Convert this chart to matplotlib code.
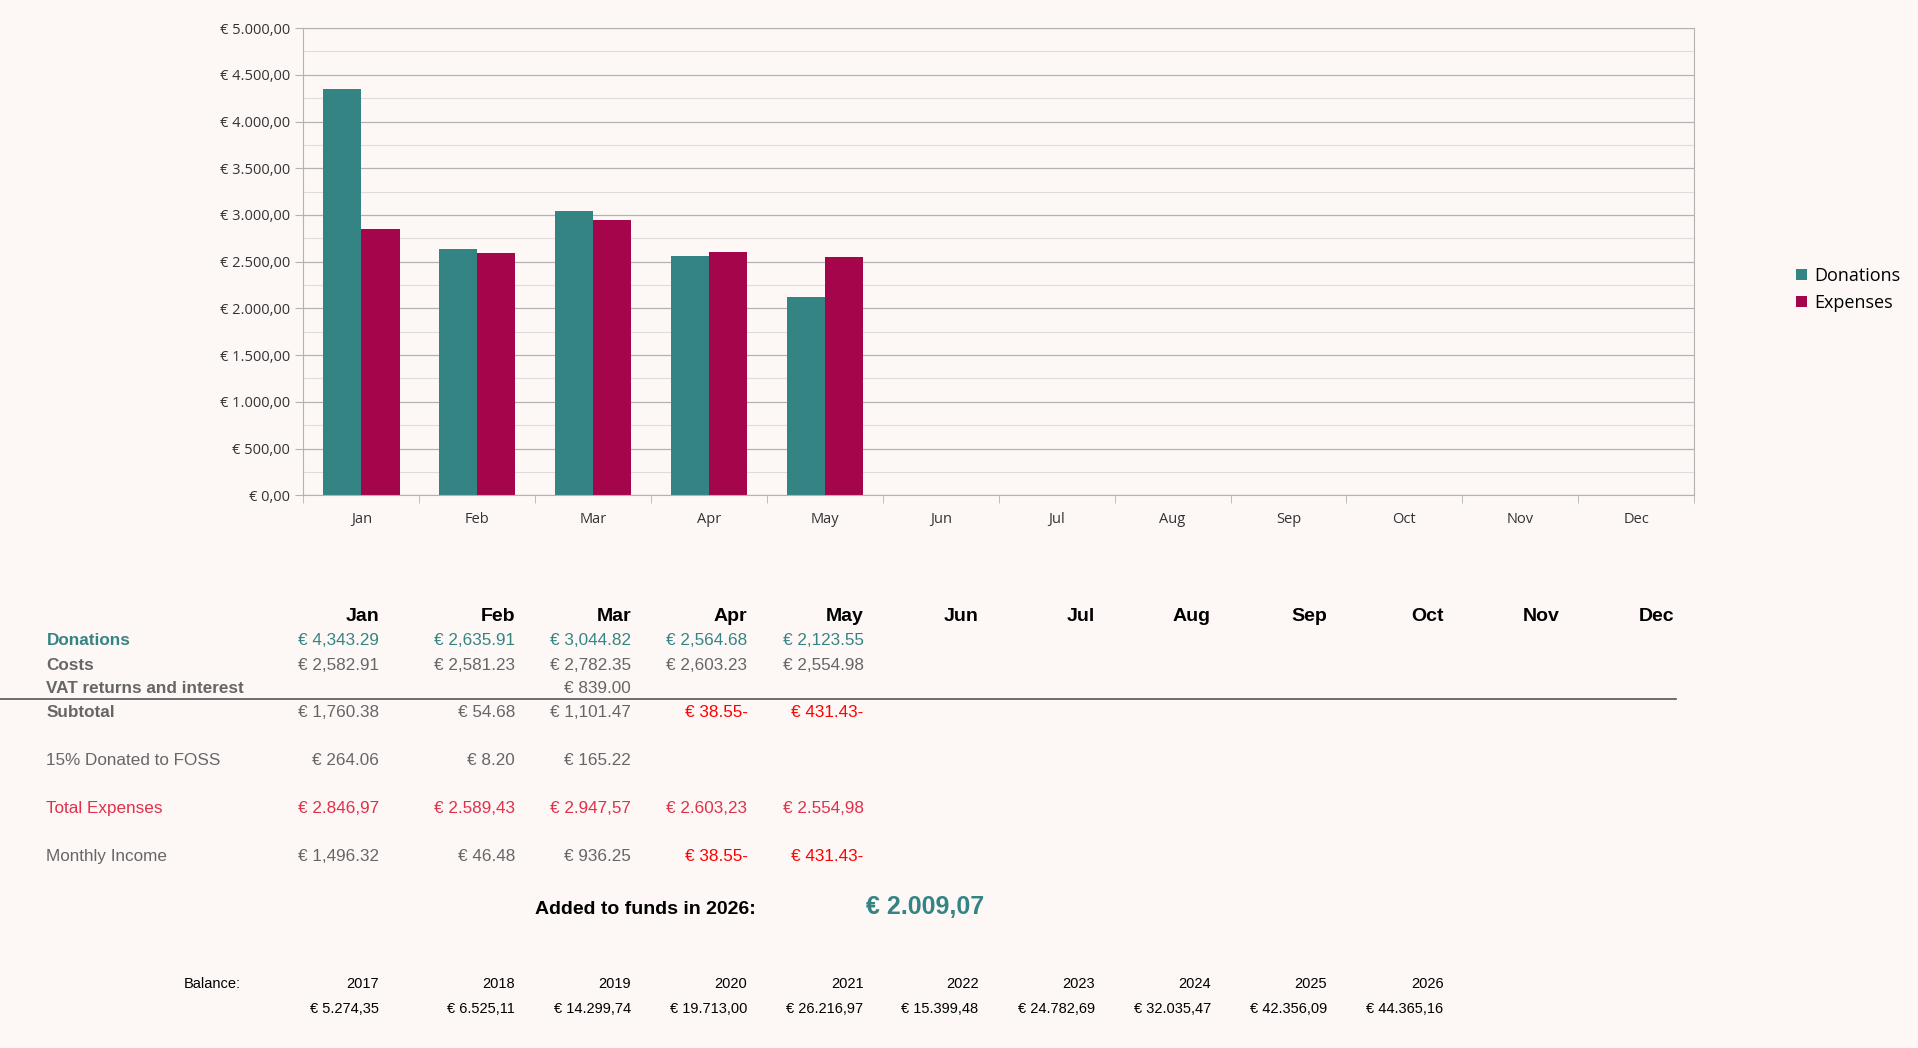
import matplotlib
matplotlib.use('Agg')
import matplotlib.pyplot as plt
import numpy as np

months = ['Jan', 'Feb', 'Mar', 'Apr', 'May', 'Jun', 'Jul', 'Aug', 'Sep', 'Oct', 'Nov', 'Dec']
donations = [4343.29, 2635.91, 3044.82, 2564.68, 2123.55]
expenses = [2846.97, 2589.43, 2947.57, 2603.23, 2554.98]

don_txt = ['€ 4,343.29', '€ 2,635.91', '€ 3,044.82', '€ 2,564.68', '€ 2,123.55']
cost_txt = ['€ 2,582.91', '€ 2,581.23', '€ 2,782.35', '€ 2,603.23', '€ 2,554.98']
vat_txt = ['', '', '€ 839.00', '', '']
sub_txt = ['€ 1,760.38', '€ 54.68', '€ 1,101.47', '€ 38.55-', '€ 431.43-']
foss_txt = ['€ 264.06', '€ 8.20', '€ 165.22', '', '']
tot_txt = ['€ 2.846,97', '€ 2.589,43', '€ 2.947,57', '€ 2.603,23', '€ 2.554,98']
inc_txt = ['€ 1,496.32', '€ 46.48', '€ 936.25', '€ 38.55-', '€ 431.43-']
neg = [False, False, False, True, True]

bal_years = ['2017', '2018', '2019', '2020', '2021', '2022', '2023', '2024', '2025', '2026']
bal_vals = ['€ 5.274,35', '€ 6.525,11', '€ 14.299,74', '€ 19.713,00', '€ 26.216,97',
            '€ 15.399,48', '€ 24.782,69', '€ 32.035,47', '€ 42.356,09', '€ 44.365,16']
added = '€ 2.009,07'

TEAL = '#358484'
CRIM = '#a5054b'
BG = '#fdf8f6'
GREY = '#666666'
W, H = 1568, 857

fig = plt.figure(figsize=(19.18, 10.48), dpi=100, facecolor=BG)
ax = fig.add_axes([248 / W, 1 - 405 / H, (1385 - 248) / W, (405 - 23) / H])
ax.set_facecolor(BG)
x = np.arange(len(donations))
bw = 0.33
ax.bar(x - bw / 2, donations, bw, color=TEAL, label='Donations')
ax.bar(x + bw / 2, expenses, bw, color=CRIM, label='Expenses')
ax.set_xlim(-0.5, 11.5)
ax.set_ylim(0, 5000)
ax.set_yticks(np.arange(0, 5001, 500))
ax.set_yticks(np.arange(250, 5000, 500), minor=True)
ax.set_yticklabels(['€ ' + f'{v:,.2f}'.replace(',', 'X').replace('.', ',').replace('X', '.')
                    for v in np.arange(0, 5001, 500)], fontfamily='Open Sans', fontsize=10.5, color='#333333')
ax.set_xticks(np.arange(12))
ax.set_xticks(np.arange(-0.5, 12, 1), minor=True)
ax.set_xticklabels(months, fontfamily='Open Sans', fontsize=10.5, color='#333333')
ax.tick_params(axis='x', which='major', length=0, pad=12)
ax.tick_params(axis='x', which='minor', length=6, color='#b3b3b3')
ax.tick_params(axis='y', which='major', length=6, color='#b3b3b3')
ax.tick_params(axis='y', which='minor', length=0)
ax.grid(axis='y', which='major', color='#b3b3b3', lw=0.9)
ax.grid(axis='y', which='minor', color='#dddddd', lw=0.8)
ax.set_axisbelow(True)
for s in ax.spines.values():
    s.set_color('#b3b3b3')
ax.legend(loc='upper left', bbox_to_anchor=(1455 / W, 1 - 205 / H), bbox_transform=fig.transFigure,
          frameon=False, prop={'family': 'Open Sans', 'size': 13}, handlelength=0.6, handleheight=0.6,
          handletextpad=0.4, labelspacing=0.5)

colx = [310, 421, 516, 611, 706, 800, 895, 990, 1085, 1180, 1275, 1369]
F = 'Liberation Sans'


def t(px, py, s, **kw):
    kw.setdefault('fontsize', 12.3)
    kw.setdefault('family', F)
    fig.text(px / W, 1 - py / H, s, va='center', **kw)


for cx, m in zip(colx, months):
    t(cx, 504, m, ha='right', fontsize=14, fontweight='bold', color='black')
t(38, 524, 'Donations', color=TEAL, fontweight='bold')
t(38, 544, 'Costs', color=GREY, fontweight='bold')
t(38, 563, 'VAT returns and interest', color=GREY, fontweight='bold')
t(38, 583, 'Subtotal', color=GREY, fontweight='bold')
t(38, 622, '15% Donated to FOSS', color=GREY)
t(38, 661, 'Total Expenses', color='#e0304a')
t(38, 700, 'Monthly Income', color=GREY)
for i in range(len(donations)):
    cx = colx[i]
    t(cx, 524, don_txt[i], ha='right', color=TEAL)
    t(cx, 544, cost_txt[i], ha='right', color=GREY)
    t(cx, 563, vat_txt[i], ha='right', color=GREY)
    t(cx, 583, sub_txt[i], ha='right', color='red' if neg[i] else GREY)
    t(cx, 622, foss_txt[i], ha='right', color=GREY)
    t(cx, 661, tot_txt[i], ha='right', color='#e0304a')
    t(cx, 700, inc_txt[i], ha='right', color='red' if neg[i] else GREY)
fig.add_artist(plt.Line2D([0, 1370 / W], [1 - 572 / H] * 2, color='#555555', lw=1.2))

t(618, 744, 'Added to funds in 2026:', ha='right', fontsize=14, fontweight='bold', color='black')
t(708, 742, added, ha='left', fontsize=18, fontweight='bold', color=TEAL)

t(197, 805, 'Balance:', ha='right', fontsize=10.5, color='black')
for cx, yr, v in zip(colx, bal_years, bal_vals):
    t(cx, 805, yr, ha='right', fontsize=10.5, color='black')
    t(cx, 825, v, ha='right', fontsize=10.5, color='black')

fig.savefig('out.png', dpi=100, facecolor=BG)
